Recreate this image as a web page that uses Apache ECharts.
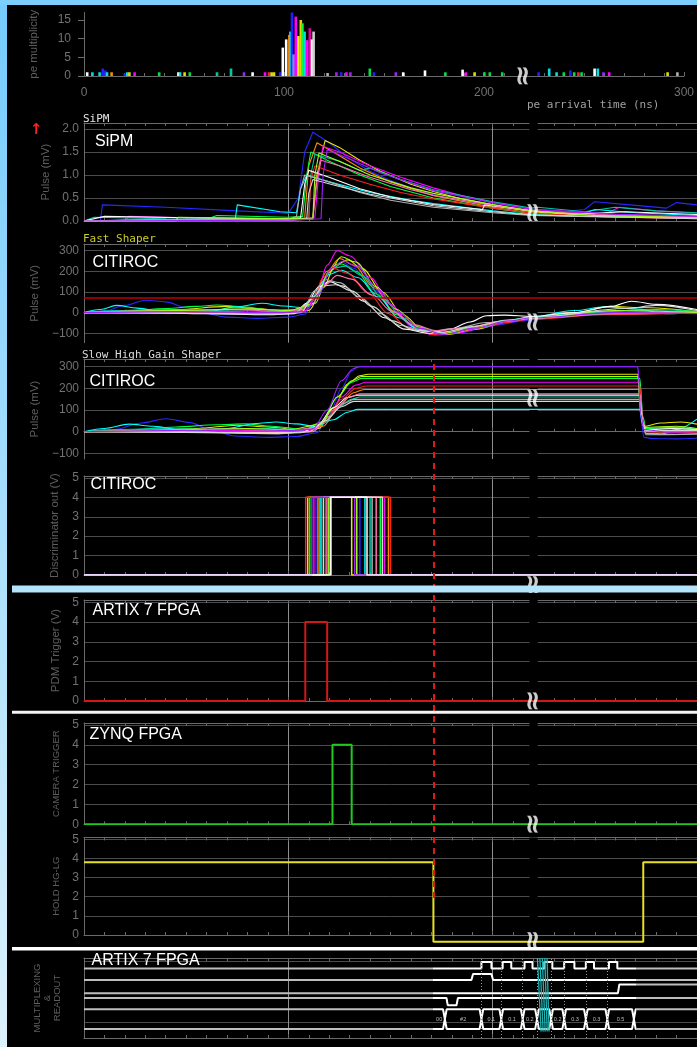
<!DOCTYPE html>
<html>
<head>
<meta charset="utf-8">
<script src="https://cdn.jsdelivr.net/npm/echarts@6/dist/echarts.min.js"></script>
<style>
html, body { margin: 0; padding: 0; background: #000; }
#chart { width: 697px; height: 1047px; }
</style>
</head>
<body>
<div id="chart"></div>
<script>
// ---- data ----
const timeTicks = [0, 100, 200, 300]
const histTicks = [0, 5, 10, 15]
const sipmTicks = [0, 0.5, 1, 1.5, 2]
const pulseTicks = [-100, 0, 100, 200, 300]
const voltTicks = [0, 1, 2, 3, 4, 5]

// pe arrival time (ns) / multiplicity
const histTimes = [1.6, 4.2, 7.8, 9.4, 10.7, 11.5, 13.8, 20.4, 21.6, 22.7, 25.3, 37.6, 47.2, 48, 50.3, 52.9, 66.5, 73.5, 80, 84.3, 90.5, 92.5, 93.8, 95, 98.1,
    99.4, 101.1, 102.7, 103.2, 104, 104.8, 105.9, 107.2, 108.4, 109.2, 110.3, 111.6, 112.9, 114, 114.8,
    121.8, 126.2, 128.6, 131.2, 133.2, 142.9, 145, 155.9, 159.6, 170.5, 180.7, 189.3, 190.9, 195.3, 200.2, 202.9, 209.1,
    227.3, 232.6, 236.3, 239.9, 243.2, 245.1, 247.2, 248.8, 255.3, 256.9, 259.7, 262.6, 291.8, 296.7]
const histCounts = [1, 1, 1, 2, 1.5, 1, 1, 0.6, 1, 1, 1, 1, 1, 1, 1, 1, 1, 2, 1, 1, 1, 1, 1, 1, 1,
    7.6, 9.8, 11, 11.9, 17, 5.8, 15.9, 10.7, 15, 14.1, 11.9, 9.6, 12.8, 9.8, 11.9,
    0.8, 1, 1, 1, 1, 2, 1, 1, 1, 1.5, 1, 1.7, 1, 1, 1, 1, 1,
    1, 2, 1, 1, 1.5, 1, 1, 1, 2, 2, 1, 1, 1, 1]
const histColors = ['#ffffff', '#00e0e0', '#00e0e0', '#2020ff', '#2020ff', '#00e0e0', '#ff8c00', '#2020ff', '#00e0e0', '#e0e000', '#ff00ff', '#00e040', '#ffffff', '#00e0e0', '#e0e000', '#00e040', '#00c8a0', '#00c8a0', '#a020ff', '#ffffff', '#ff00ff', '#ff2020', '#e0e000', '#e0e000', '#2020ff',
    '#ffffff', '#ffffff', '#ff8c00', '#00e0e0', '#2020ff', '#7090ff', '#ff00ff', '#f0f000', '#e8d000', '#00ff40', '#00e0e0', '#ff00ff', '#e000a0', '#ffffff', '#d0d0d0',
    '#b0b0b0', '#a020ff', '#2020ff', '#ff00ff', '#a020ff', '#00e040', '#2020ff', '#a020ff', '#ffffff', '#ffffff', '#00e040', '#ffffff', '#ff00ff', '#e0e000', '#00e040', '#00e040', '#00e040',
    '#2020ff', '#00e0e0', '#00e0e0', '#00e040', '#2020ff', '#00e040', '#ff2020', '#00e040', '#ffffff', '#00e0e0', '#a020ff', '#ff00ff', '#e0e000', '#b0b0b0']

// channel colours shared by the analogue panels
const channelColors = ['#2828ff', '#e8e800', '#ff8c00', '#ff00ff', '#00ff40', '#00c8a0', '#00ffff', '#ff2020', '#ffffff', '#b0b0b0', '#ff70b0', '#a0ff20', '#d8d8d8', '#a020ff']

// SiPM pulse (mV) vs time
const sipmCurves = [
    [[0,0],[8,0],[9,0.35],[40,0.3],[75,0.22],[100,0.17],[105,0.5],[108,1.5],[112,1.93],[120,1.7],[130,1.35],[140,1.08],[150,0.88],[160,0.72],[171,0.57],[185,0.43],[200,0.33],[219,0.22],[230,0.18],[245,0.25],[250,0.42],[270,0.34],[285,0.28],[290,0.4],[300,0.35]],
    [[0,0],[20,0.02],[60,0.03],[100,0.05],[112,0.06],[114,1.0],[118,1.75],[125,1.6],[135,1.32],[145,1.08],[160,0.8],[171,0.64],[185,0.48],[200,0.35],[219,0.2],[240,0.13],[270,0.1],[300,0.08]],
    [[0,0],[50,0.02],[100,0.04],[108,0.06],[110,1.2],[114,1.7],[122,1.5],[135,1.15],[150,0.85],[171,0.55],[200,0.3],[219,0.18],[250,0.1],[300,0.06]],
    [[0,0],[20,0],[22,0.1],[60,0.06],[100,0.05],[113,0.08],[115,1.1],[117,1.62],[125,1.5],[140,1.2],[155,0.95],[171,0.72],[185,0.55],[200,0.4],[219,0.25],[235,0.2],[255,0.15],[262,0.3],[280,0.22],[300,0.17]],
    [[0,0],[60,0.04],[65,0.12],[100,0.08],[107,0.1],[109,1.0],[111,1.5],[120,1.3],[135,1.0],[150,0.75],[171,0.5],[200,0.28],[219,0.16],[250,0.1],[300,0.06]],
    [[0,0],[5,0.08],[40,0.05],[100,0.04],[110,0.06],[111,1.0],[113,1.45],[125,1.3],[135,1.1],[140,1.15],[155,0.9],[171,0.68],[200,0.42],[219,0.28],[222,0.3],[245,0.2],[260,0.3],[280,0.22],[300,0.18]],
    [[0,0],[30,0.02],[74,0.03],[75,0.35],[96,0.2],[104,0.18],[106,0.7],[109,1.0],[120,0.85],[140,0.62],[160,0.45],[171,0.38],[200,0.22],[219,0.14],[240,0.1],[250,0.25],[270,0.18],[300,0.12]],
    [[0,0],[100,0.03],[110,0.05],[111,0.9],[113,1.2],[125,1.0],[140,0.8],[155,0.62],[171,0.48],[200,0.28],[219,0.17],[260,0.08],[300,0.05]],
    [[0,0],[10,0.1],[50,0.07],[100,0.05],[106,0.07],[108,0.8],[110,1.1],[120,0.95],[135,0.7],[150,0.52],[171,0.36],[195,0.25],[196,0.35],[219,0.22],[240,0.15],[265,0.2],[300,0.14]],
    [[0,0],[60,0.03],[100,0.04],[104,0.1],[106,0.7],[108,1.0],[120,0.85],[135,0.62],[150,0.45],[171,0.3],[200,0.18],[219,0.12],[260,0.08],[300,0.06]],
    [[0,0],[100,0.02],[112,0.04],[114,0.9],[116,1.32],[125,1.2],[140,0.95],[160,0.68],[171,0.56],[200,0.34],[219,0.22],[250,0.14],[300,0.09]],
    [[0,0],[45,0],[46,0.08],[100,0.05],[112,0.06],[113,1.0],[115,1.48],[125,1.3],[140,1.0],[160,0.72],[171,0.6],[200,0.36],[219,0.22],[250,0.12],[300,0.07]],
    [[0,0],[100,0.02],[109,0.05],[110,0.6],[112,0.9],[125,0.75],[140,0.58],[171,0.33],[200,0.2],[219,0.13],[300,0.05]],
    [[0,0],[100,0.02],[116,0.05],[117,1.0],[119,1.55],[130,1.35],[145,1.05],[171,0.66],[200,0.4],[219,0.26],[260,0.15],[300,0.1]]
]

// CITIROC fast shaper (mV) vs time
const fastThreshold = 72
const fastCurves = [
    [[0,0],[10,8],[20,35],[30,60],[40,52],[50,25],[60,-5],[70,-22],[85,-28],[100,-22],[108,-8],[114,80],[120,200],[126,245],[132,215],[142,110],[152,0],[162,-80],[172,-110],[185,-95],[200,-60],[219,-35],[235,-15],[250,0],[270,5],[300,0]],
    [[0,0],[20,5],[45,15],[70,30],[85,20],[100,5],[110,10],[117,120],[123,230],[129,255],[136,215],[146,100],[156,-10],[166,-85],[178,-105],[192,-80],[207,-45],[219,-28],[240,0],[258,30],[272,25],[300,5]],
    [[0,0],[40,3],[80,-3],[104,0],[112,70],[119,200],[125,262],[132,230],[142,120],[152,5],[162,-70],[174,-100],[188,-80],[204,-45],[219,-25],[250,-5],[300,0]],
    [[0,0],[20,3],[40,10],[60,5],[80,8],[100,2],[108,10],[114,90],[119,230],[124,300],[130,275],[140,170],[150,40],[160,-60],[170,-105],[182,-100],[196,-70],[210,-40],[219,-30],[240,-8],[265,10],[300,0]],
    [[0,0],[20,8],[40,20],[55,30],[65,37],[78,28],[92,12],[105,15],[113,70],[120,200],[126,235],[133,200],[143,90],[153,-10],[164,-85],[177,-98],[192,-65],[208,-35],[219,-22],[250,5],[280,15],[300,5]],
    [[0,0],[15,10],[35,15],[60,10],[85,15],[100,10],[110,30],[116,140],[122,215],[128,225],[136,180],[146,70],[156,-25],[166,-88],[178,-100],[193,-72],[209,-40],[219,-25],[245,0],[270,10],[300,5]],
    [[0,0],[8,15],[16,35],[26,22],[40,2],[60,5],[75,28],[87,45],[98,32],[106,25],[113,80],[120,185],[126,205],[134,170],[144,75],[154,-25],[164,-82],[176,-95],[190,-70],[206,-40],[219,-22],[240,10],[255,28],[270,18],[285,-5],[300,0]],
    [[0,0],[50,0],[90,-3],[105,0],[112,60],[117,170],[122,215],[129,190],[139,95],[149,-5],[159,-75],[171,-105],[185,-85],[200,-55],[219,-32],[255,-10],[300,0]],
    [[0,0],[30,0],[60,-5],[90,-10],[103,-5],[109,45],[115,125],[120,150],[127,128],[137,55],[147,-25],[157,-80],[169,-100],[179,-80],[189,-45],[197,-15],[206,-12],[219,-18],[240,0],[258,30],[268,55],[280,40],[300,15]],
    [[0,0],[60,5],[100,-5],[107,15],[113,105],[118,160],[125,145],[135,75],[145,-5],[155,-62],[167,-92],[181,-78],[197,-48],[219,-28],[260,-5],[300,0]],
    [[0,0],[40,10],[70,15],[100,5],[111,35],[118,135],[124,180],[131,162],[141,85],[151,5],[161,-58],[173,-88],[187,-72],[204,-42],[219,-26],[250,-5],[300,5]],
    [[0,0],[45,10],[80,18],[100,10],[113,45],[120,195],[126,270],[133,245],[143,125],[153,15],[163,-68],[175,-102],[190,-75],[207,-42],[219,-26],[260,10],[300,0]],
    [[0,0],[50,-3],[95,-8],[106,0],[112,70],[117,130],[123,135],[131,105],[141,30],[151,-40],[162,-85],[175,-95],[190,-68],[207,-38],[219,-24],[265,20],[280,35],[300,10]],
    [[0,0],[50,5],[95,0],[108,5],[115,90],[121,215],[127,250],[134,220],[144,110],[154,0],[164,-75],[176,-105],[191,-75],[208,-40],[219,-25],[260,0],[300,-5]]
]

// CITIROC slow high gain shaper (mV) vs time
const slowCurves = [
    [[0,0],[15,10],[28,40],[40,60],[52,42],[62,8],[74,-20],[90,-26],[104,-22],[114,-5],[120,80],[126,200],[131,280],[134,300],[271,300],[272.5,60],[274,-25],[278,-32],[290,-33],[300,-30]],
    [[0,0],[30,5],[55,15],[75,30],[90,22],[106,8],[115,15],[122,110],[129,220],[135,258],[139,265],[271,265],[272.5,100],[274,25],[282,40],[292,45],[300,35]],
    [[0,0],[40,3],[80,-3],[108,0],[117,25],[125,120],[132,180],[137,195],[272,195],[273.5,40],[275,-8],[290,-5],[300,-8]],
    [[0,0],[20,3],[45,10],[70,5],[95,5],[112,5],[119,55],[126,160],[133,215],[138,228],[272,228],[273.5,60],[275,2],[290,8],[300,5]],
    [[0,0],[20,8],[45,22],[65,32],[79,36],[92,25],[108,10],[116,45],[124,160],[131,228],[136,246],[272,246],[273.5,70],[275,15],[288,20],[300,12]],
    [[0,0],[15,10],[40,15],[65,10],[90,15],[107,8],[116,30],[124,110],[131,150],[135,160],[272,160],[273.5,40],[275,5],[300,8]],
    [[0,0],[10,15],[22,35],[34,25],[50,5],[70,15],[84,38],[94,45],[104,36],[113,25],[122,55],[129,90],[134,103],[272,103],[273.5,30],[275,-8],[282,-12],[290,10],[300,58]],
    [[0,0],[50,0],[90,-5],[110,0],[118,45],[126,150],[133,200],[138,211],[272,211],[273.5,50],[275,0],[300,-5]],
    [[0,0],[40,0],[80,-5],[106,-5],[114,25],[122,110],[129,158],[134,169],[272,169],[273.5,40],[275,10],[288,14],[300,10]],
    [[0,0],[50,0],[95,-10],[112,0],[120,70],[127,130],[132,149],[272,149],[273.5,30],[275,-14],[300,-12]],
    [[0,0],[40,8],[70,12],[100,5],[114,20],[122,100],[130,160],[135,175],[272,175],[273.5,40],[275,0],[300,2]],
    [[0,0],[45,8],[80,15],[100,8],[116,35],[124,160],[131,235],[136,255],[271,255],[272.5,80],[274,20],[290,25],[300,15]],
    [[0,0],[50,-3],[95,-8],[110,0],[118,50],[126,115],[132,140],[272,140],[273.5,30],[275,5],[300,5]],
    [[0,0],[40,5],[80,10],[100,5],[112,12],[119,100],[126,235],[132,292],[135,300],[271,300],[272.5,80],[274,10],[285,-2],[300,0]]
]

// discriminator output: rising / falling edge per channel (ns), level (V)
const discRise = [113.5, 109.5, 114.5, 112.5, 110.5, 116.2, 115.5, 108.5, 120.5, 121, 118.5, 119.5, 117.2, 111.5]
const discFall = [135, 131, 149, 147, 145, 140, 137.5, 150, 138.5, 141, 143, 133.5, 146, 132.5]
const discLevel = 4

// FPGA trigger signals (ns, V)
const pdmPulse = { rise: 108.3, fall: 119, level: 4 }
const camPulse = { rise: 121.6, fall: 131, level: 4 }
const hold = { high: 3.8, low: -0.35, start: 171, end: 273.7 }

// multiplexing & readout traces (row units)
const muxClock = [[0,8.7],[194.5,8.7],[194.5,9.5],[199.4,9.5],[199.4,8.7],[204.9,8.7],[204.9,9.5],[209.1,9.5],[209.1,8.7],[215.6,8.7],[215.6,9.5],[219.5,9.5],[219.5,8.7],[225.3,8.7],[225.3,9.5],[229.2,9.5],[229.2,8.7],[235,8.7],[235,9.5],[240,9.5],[240,8.7],[245.6,8.7],[245.6,9.5],[249.6,9.5],[249.6,8.7],[256.9,8.7],[256.9,9.5],[261,9.5],[261,8.7],[300,8.7]]
const muxLoad = [[0,7.25],[189.6,7.25],[190.4,8.0],[199.4,8.0],[200.2,7.25],[300,7.25]]
const muxSelect = [[0,5.6],[261.3,5.6],[262,6.7],[300,6.7]]
const muxStart = [[0,5.0],[177.4,5.0],[178,4.1],[182.3,4.1],[183,5.0],[300,5.0]]
const busLevels = { top: 3.6, bottom: 1.13 }
const busOpen = 171
const busEdges = [176.6, 194.5, 204.2, 214.7, 221.7, 228.6, 235, 245.6, 256.1, 269.1]
const busLabels = ['00', '#2', '0.1', '0.1', '0.2', '', '0.2', '0.3', '0.3', '0.5']
const strobeStrands = [
    [[221.9,10],[223.7,0.8]], [[223.1,10],[224.7,0.8]], [[224.3,10],[225.7,0.8]], [[225.5,10],[226.7,0.8]], [[226.6,10],[227.6,0.8]]
]
const activeWindow = [171, 270]
const timeBreak = [218, 222]

// ---- layout ----
const GRID_LEFT = 84
const GRID_W = 616
const AXIS_GRAY = '#6a6a6a'
const LABEL_GRAY = '#727272'
const minusFmt = v => v < 0 ? '\u2212' + Math.abs(v) : String(v)

const panels = [
    { top: 12.5, height: 63.5, min: 0, max: 17, ticks: histTicks, name: 'pe multiplicity', nameGap: 45, fmt: v => String(v), breakY: 0, frameTop: false, hist: true },
    { top: 123, height: 98, min: 0, max: 2.13, ticks: sipmTicks, name: 'Pulse (mV)', nameGap: 33, fmt: v => v.toFixed(1), breakY: 0.18, frameTop: true },
    { top: 244, height: 98.7, min: -145.5, max: 332, ticks: pulseTicks, name: 'Pulse (mV)', nameGap: 33, fmt: minusFmt, breakY: -45, frameTop: true },
    { top: 359, height: 100, min: -126, max: 335.5, ticks: pulseTicks, name: 'Pulse (mV)', nameGap: 33, fmt: minusFmt, breakY: 155, frameTop: true },
    { top: 476, height: 99, min: 0, max: 5.1, ticks: voltTicks, name: 'Discriminator out (V)', nameGap: 24, fmt: v => String(v), breakY: -0.5, frameTop: true },
    { top: 600, height: 101, min: 0, max: 5.12, ticks: voltTicks, name: 'PDM Trigger (V)', nameGap: 19, fmt: v => String(v), breakY: 0, frameTop: true },
    { top: 723, height: 101.3, min: 0, max: 5.1, ticks: voltTicks, name: 'CAMERA TRIGGER', nameGap: 21, fmt: v => String(v), breakY: 0, frameTop: true, small: true },
    { top: 837.4, height: 97.6, min: 0, max: 5.1, ticks: voltTicks, name: 'HOLD HG-LG', nameGap: 21, fmt: v => String(v), breakY: -0.3, frameTop: true, small: true },
    { top: 958, height: 80, min: 0, max: 10, ticks: [2, 9.6], name: 'MULTIPLEXING\n&\nREADOUT', nameGap: 22, fmt: () => '', breakY: null, frameTop: true, small: true, noLabels: true }
]

const grid = []
const xAxis = []
const yAxis = []
const series = []

panels.forEach((p, i) => {
    grid.push({ left: GRID_LEFT, top: p.top, width: GRID_W, height: p.height })
    xAxis.push({
        gridIndex: i, type: 'value', min: 0, max: 300, interval: 100, position: 'bottom',
        axisLine: { show: true, lineStyle: { color: AXIS_GRAY } },
        axisTick: { show: true, inside: true, length: 4, lineStyle: { color: AXIS_GRAY } },
        minorTick: { show: true, splitNumber: 10, length: 3, lineStyle: { color: AXIS_GRAY } },
        axisLabel: { show: !!p.hist, color: LABEL_GRAY, fontSize: 12, margin: 11, fontFamily: 'Liberation Sans' },
        splitLine: { show: !p.hist, lineStyle: { color: '#8e8e8e', width: 1 } },
        minorSplitLine: { show: false }
    })
    xAxis.push({
        gridIndex: i, type: 'value', min: 0, max: 300, interval: 100, position: 'top', show: p.frameTop,
        axisLine: { show: true, lineStyle: { color: AXIS_GRAY } },
        axisTick: { show: true, inside: true, length: 4, lineStyle: { color: AXIS_GRAY } },
        minorTick: { show: true, splitNumber: 10, length: 3, lineStyle: { color: AXIS_GRAY } },
        axisLabel: { show: false }, splitLine: { show: false }
    })
    yAxis.push({
        gridIndex: i, type: 'value', min: p.min, max: p.max,
        name: p.name, nameLocation: 'middle', nameGap: p.nameGap,
        nameTextStyle: { color: '#5e5e5e', fontSize: p.small ? 9.5 : 11.5, fontFamily: 'Liberation Sans', lineHeight: 10 },
        axisLine: { show: true, lineStyle: { color: AXIS_GRAY } },
        axisTick: { show: !!p.hist, length: 6, customValues: p.ticks, lineStyle: { color: AXIS_GRAY } },
        axisLabel: { show: !p.noLabels, customValues: p.ticks, formatter: p.fmt, color: LABEL_GRAY, fontSize: 12, margin: p.hist ? 13 : 5, fontFamily: 'Liberation Sans' },
        splitLine: { show: !p.hist, lineStyle: { color: '#4c4c4c', width: 1 } }
    })
})

const xi = i => 2 * i

// histogram
series.push({
    type: 'bar', xAxisIndex: xi(0), yAxisIndex: 0, barWidth: 2.6, barGap: '-100%',
    data: histTimes.map((t, k) => ({ value: [t, histCounts[k]], itemStyle: { color: histColors[k % histColors.length] } }))
})

function analog(curves, gi, smooth) {
    curves.forEach((c, k) => {
        series.push({
            type: 'line', xAxisIndex: xi(gi), yAxisIndex: gi, data: c, symbol: 'none',
            smooth: smooth, smoothMonotone: 'x',
            lineStyle: { width: 1.1, color: channelColors[k % channelColors.length] }
        })
    })
}
analog(sipmCurves, 1, false)
analog(fastCurves, 2, 0.35)
analog(slowCurves, 3, 0.3)

series.push({
    type: 'line', xAxisIndex: xi(2), yAxisIndex: 2, data: [], symbol: 'none',
    markLine: { silent: true, symbol: 'none', label: { show: false }, lineStyle: { color: '#c00000', width: 1.5, type: 'solid' }, data: [{ yAxis: fastThreshold }] }
})

// discriminator (white channel drawn on top, as in the scope trace)
discRise.forEach((r, k) => {
    const c = channelColors[k % channelColors.length]
    series.push({
        type: 'line', xAxisIndex: xi(4), yAxisIndex: 4, symbol: 'none', z: c === '#ffffff' ? 3 : 2,
        data: [[0, 0], [r, 0], [r, discLevel], [discFall[k], discLevel], [discFall[k], 0], [300, 0]],
        lineStyle: { width: 1.5, color: c }
    })
})

function pulse(p, gi, color) {
    series.push({
        type: 'line', xAxisIndex: xi(gi), yAxisIndex: gi, symbol: 'none',
        data: [[0, 0], [p.rise, 0], [p.rise, p.level], [p.fall, p.level], [p.fall, 0], [300, 0]],
        lineStyle: { width: 2, color: color }
    })
}
pulse(pdmPulse, 5, '#d01818')
pulse(camPulse, 6, '#22c822')

series.push({
    type: 'line', xAxisIndex: xi(7), yAxisIndex: 7, symbol: 'none', clip: false,
    data: [[0, hold.high], [hold.start, hold.high], [hold.start, hold.low], [hold.end, hold.low], [hold.end, hold.high], [300, hold.high]],
    lineStyle: { width: 2, color: '#e6e020' }
})

// multiplexing & readout
const muxSeriesIdx = []
function muxLine(data) {
    muxSeriesIdx.push(series.length)
    series.push({ type: 'line', xAxisIndex: xi(8), yAxisIndex: 8, symbol: 'none', data: data, lineStyle: { width: 2 } })
}
muxLine(muxClock)
muxLine(muxLoad)
muxLine(muxSelect)
muxLine(muxStart)
const mid = (busLevels.top + busLevels.bottom) / 2
const busTop = [[0, busLevels.top]]
const busBot = [[0, busLevels.bottom]]
busEdges.forEach(e => {
    busTop.push([e - 0.9, busLevels.top], [e, mid], [e + 0.9, busLevels.top])
    busBot.push([e - 0.9, busLevels.bottom], [e, mid], [e + 0.9, busLevels.bottom])
})
busTop.push([300, busLevels.top])
busBot.push([300, busLevels.bottom])
muxLine(busTop)
muxLine(busBot)

const bounds = [busOpen].concat(busEdges)
series.push({
    type: 'scatter', xAxisIndex: xi(8), yAxisIndex: 8, symbolSize: 0,
    data: busLabels.map((s, k) => ({ value: [(bounds[k] + bounds[k + 1]) / 2, mid], name: s })),
    label: { show: true, position: 'inside', formatter: d => d.name, color: '#e0e0e0', fontSize: 5.5, fontFamily: 'Liberation Sans' }
})
series.push({
    type: 'line', xAxisIndex: xi(8), yAxisIndex: 8, data: [], symbol: 'none',
    markLine: { silent: true, symbol: 'none', label: { show: false }, lineStyle: { color: '#9a9a9a', width: 1, type: [1, 2] }, data: busEdges.slice(1, 9).map(e => ({ xAxis: e })) }
})
strobeStrands.forEach(s => {
    series.push({ type: 'line', xAxisIndex: xi(8), yAxisIndex: 8, symbol: 'none', data: s, lineStyle: { width: 1.3, color: '#1fb0b0' }, z: 4 })
})

// axis break band + marker
panels.forEach((p, i) => {
    if (p.breakY === null) return
    series.push({
        type: 'line', xAxisIndex: xi(i), yAxisIndex: i, data: [], z: 10,
        markArea: { silent: true, itemStyle: { color: '#000', opacity: 1 }, data: [[{ xAxis: timeBreak[0] }, { xAxis: timeBreak[1] }]] }
    })
    series.push({
        type: 'scatter', xAxisIndex: xi(i), yAxisIndex: i, symbolSize: 0, clip: false, z: 11,
        data: [[(timeBreak[0] + timeBreak[1]) / 2, p.breakY]],
        label: { show: true, position: 'inside', formatter: '\u2248', rotate: 90, color: '#fff', fontSize: 27, fontWeight: 'bold', fontFamily: 'DejaVu Sans' }
    })
})

// hold start marker across panels (overlay grid)
grid.push({ left: GRID_LEFT, top: 362, width: GRID_W, height: 536 })
xAxis.push({ gridIndex: 9, type: 'value', min: 0, max: 300, show: false })
yAxis.push({ gridIndex: 9, type: 'value', min: 0, max: 1, show: false })
series.push({
    type: 'line', xAxisIndex: 18, yAxisIndex: 9, data: [], z: 12,
    markLine: { silent: true, symbol: 'none', label: { show: false }, lineStyle: { color: '#e01818', width: 2, type: [6, 5] }, data: [{ xAxis: hold.start }] }
})

// ---- decorations ----
const big = '16px "Liberation Sans"'
const mono = '11px "DejaVu Sans Mono"'
const texts = [
    ['SiPM', 83, 119, '#e6e6e6', mono],
    ['SiPM', 95, 141.5, '#ffffff', big],
    ['Fast Shaper', 83, 239.5, '#cccc28', mono],
    ['CITIROC', 92.5, 262.5, '#ffffff', big],
    ['Slow High Gain Shaper', 82, 355, '#dcdcdc', mono],
    ['CITIROC', 89.5, 382, '#ffffff', big],
    ['CITIROC', 90.5, 484.5, '#ffffff', big],
    ['ARTIX 7 FPGA', 92.5, 611, '#ffffff', big],
    ['ZYNQ FPGA', 89.5, 734.5, '#ffffff', big],
    ['ARTIX 7 FPGA', 91.5, 961, '#ffffff', big],
    ['pe arrival time (ns)', 527, 105, '#a0a0a0', mono],
    ['\u2191', 30, 130, '#ff2020', 'bold 15px "DejaVu Sans"']
]
const graphic = [
    { type: 'rect', left: 0, top: 0, z: 100, shape: { width: 7, height: 1047 },
      style: { fill: new echarts.graphic.LinearGradient(0, 0, 0, 1, [{ offset: 0, color: '#74cbfc' }, { offset: 1, color: '#dcf2fc' }]) } },
    { type: 'rect', left: 0, top: 0, z: 100, shape: { width: 697, height: 5 }, style: { fill: '#7ccefd' } },
    { type: 'rect', left: 12, top: 585.5, z: 100, shape: { width: 685, height: 7 }, style: { fill: '#b4e4fc' } },
    { type: 'rect', left: 12, top: 710.7, z: 100, shape: { width: 685, height: 3 }, style: { fill: '#f4f4f4' } },
    { type: 'rect', left: 12, top: 947, z: 100, shape: { width: 685, height: 3.5 }, style: { fill: '#ffffff' } }
].concat(texts.map(t => ({
    type: 'text', z: 100, x: t[1], y: t[2],
    style: { text: t[0], fill: t[3], font: t[4], textAlign: 'left', textVerticalAlign: 'middle', align: 'left', verticalAlign: 'middle' }
})))

const chart = echarts.init(document.getElementById('chart'))
chart.setOption({
    animation: false,
    backgroundColor: '#000',
    grid: grid,
    xAxis: xAxis,
    yAxis: yAxis,
    visualMap: [{
        type: 'piecewise', show: false, dimension: 0, seriesIndex: muxSeriesIdx,
        pieces: [
            { lt: activeWindow[0], color: '#bdbdbd' },
            { gte: activeWindow[0], lte: activeWindow[1], color: '#ffffff' },
            { gt: activeWindow[1], color: '#bdbdbd' }
        ]
    }],
    series: series,
    graphic: graphic
})
</script>
</body>
</html>
